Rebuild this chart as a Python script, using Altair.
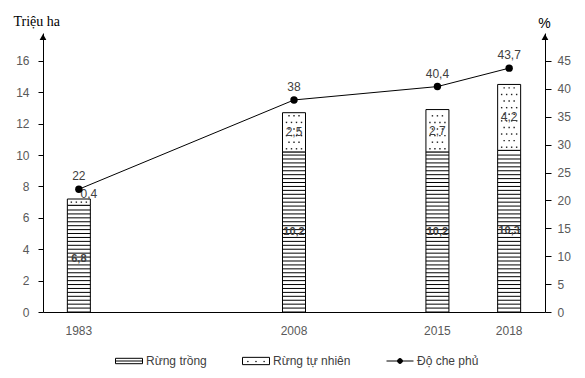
import altair as alt
import pandas as pd
import numpy as np

# ---- data ----
years = ["1983", "2008", "2015", "2018"]
planted = [6.8, 10.2, 10.2, 10.3]      # Rừng trồng (triệu ha)
natural = [0.4, 2.5, 2.7, 4.2]         # Rừng tự nhiên (triệu ha)
cover = [22, 38, 40.4, 43.7]           # Độ che phủ (%)
slots = ["1983", " ", "  ", "2008", "   ", "2015", "2018"]  # x slots (blank = gap)
left_ticks = list(range(0, 17, 2))
right_ticks = list(range(0, 50, 5))
series = ["Rừng trồng", "Rừng tự nhiên", "Độ che phủ"]

W, H = 502, 279
LMAX = 16 * 50 / 45
BAR = 23

def fmt(v):
    return f"{v:g}".replace(".", ",")

df = pd.DataFrame({"year": years, "planted": planted, "natural": natural, "cover": cover})
df["total"] = df["planted"] + df["natural"]
df["pl_mid"] = df["planted"] / 2
df["nat_mid"] = df["planted"] + df["natural"] / 2
df["pl_lab"] = [fmt(v) for v in planted]
df["nat_lab"] = [fmt(v) for v in natural]
df["cov_lab"] = [fmt(v) for v in cover]

# fill patterns derived from the bar values
stripe_rows = []
for yr, p in zip(years, planted):
    for yv in np.arange(0.25, p - 0.05, 0.25):
        stripe_rows.append({"year": yr, "y": float(yv)})
stripes = pd.DataFrame(stripe_rows)

dot_rows = []
for yr, p, n in zip(years, planted, natural):
    yv, i = p + 0.2, 0
    while yv < p + n - 0.08:
        offs = [-7.5, -2.5, 2.5, 7.5] if i % 2 == 0 else [-5, 0, 5]
        for o in offs:
            dot_rows.append({"year": yr, "y": yv, "xo": o})
        yv += 0.42
        i += 1
dots = pd.DataFrame(dot_rows)

FONT = "Liberation Sans"
SERIF = "Liberation Serif"


def X():
    return alt.X("year:N", scale=alt.Scale(type="band", domain=slots, paddingInner=0, paddingOuter=0),
                 axis=alt.Axis(title=None, ticks=False, labelAngle=0, labelPadding=13,
                               domainColor="black"))


lscale = alt.Scale(domain=[0, LMAX], nice=False, zero=True)
laxis = alt.Axis(values=left_ticks, title="Triệu ha", titleAngle=0, titleAlign="left",
                 titleX=-30, titleY=-8, titleBaseline="alphabetic", tickSize=5, labelPadding=9,
                 titleFont=SERIF, titleFontSize=14, titleFontWeight="normal", titleColor="black")


def LY(field):
    return alt.Y(field, scale=lscale, axis=laxis, title="Triệu ha")


base = alt.Chart(df)

bar_pl = base.mark_bar(size=BAR, fill="white", stroke="black", strokeWidth=1).encode(
    x=X(), y=LY("planted:Q"))
bar_nat = base.mark_bar(size=BAR, fill="white", stroke="black", strokeWidth=1).encode(
    x=X(), y=LY("planted:Q"), y2="total:Q")
stripe_layer = alt.Chart(stripes).mark_tick(orient="horizontal", size=BAR, thickness=1,
                                            color="black", opacity=1).encode(
    x=X(), y=LY("y:Q"))

dot_layers = []
for o in sorted(dots["xo"].unique()):
    dot_layers.append(
        alt.Chart(dots).transform_filter(alt.datum.xo == float(o)).mark_square(
            size=2, color="#222222", opacity=1, xOffset=float(o)).encode(x=X(), y=LY("y:Q"))
    )

lab_pl = base.mark_text(font=FONT, fontSize=11, fontWeight="bold", color="#404040").encode(
    x=X(), y=LY("pl_mid:Q"), text="pl_lab:N")
lab_nat = base.transform_filter(alt.datum.natural >= 1).mark_text(
    font=FONT, fontSize=12, color="#404040").encode(x=X(), y=LY("nat_mid:Q"), text="nat_lab:N")
lab_nat_small = base.transform_filter(alt.datum.natural < 1).mark_text(
    font=FONT, fontSize=12, color="#404040", dx=10, dy=-8).encode(
    x=X(), y=LY("nat_mid:Q"), text="nat_lab:N")

left_group = alt.layer(bar_pl, bar_nat, stripe_layer, *dot_layers, lab_pl, lab_nat, lab_nat_small)

rscale = alt.Scale(domain=[0, 50], nice=False, zero=True)
raxis = alt.Axis(values=right_ticks, orient="right", title="%", titleAngle=0, titleAlign="center",
                 titleX=-1, titleY=-6, titleBaseline="alphabetic", tickSize=6, labelPadding=6,
                 titleFont=FONT, titleFontSize=14, titleFontWeight="normal", titleColor="black")


def RY(field):
    return alt.Y(field, scale=rscale, axis=raxis, title="%")


line = base.mark_line(color="black", strokeWidth=1).encode(x=X(), y=RY("cover:Q"))
pts = base.mark_circle(size=55, color="black", opacity=1).encode(x=X(), y=RY("cover:Q"))
lab_cov = base.mark_text(font=FONT, fontSize=12, color="#404040", dy=-13).encode(
    x=X(), y=RY("cover:Q"), text="cov_lab:N")
right_group = alt.layer(line, pts, lab_cov)

# axis arrows
one = alt.Data(values=[{"a": 1}])
arrow_l = alt.Chart(one).mark_point(shape="triangle-up", filled=True, size=45, color="black",
                                    opacity=1, yOffset=4).encode(x=alt.value(0), y=alt.value(0))
arrow_r = alt.Chart(one).mark_point(shape="triangle-up", filled=True, size=45, color="black",
                                    opacity=1, yOffset=4).encode(x=alt.value(W), y=alt.value(0))

# legend (explicit domain, no marks drawn)
shapes = [
    "M-1,-0.2H1V0.2H-1Z M-1,0H1",
    "M-1,-0.27H1V0.27H-1Z M-0.62,0.02h0.04v0.04h-0.04Z M-0.02,0.02h0.04v0.04h-0.04Z M0.58,0.02h0.04v0.04h-0.04Z",
    "M-1,0H1 M-0.18,0A0.18,0.18 0 1,0 0.18,0A0.18,0.18 0 1,0 -0.18,0Z",
]
leg = alt.Legend(title=None, orient="none", legendX=72, legendY=314, direction="horizontal",
                 columns=3, columnPadding=33, symbolSize=729, symbolStrokeColor="black",
                 symbolStrokeWidth=1, labelFont=FONT, labelFontSize=12, labelColor="#404040",
                 labelOffset=3, symbolOpacity=1)
legend_df = pd.DataFrame({"s": series})
legend_layer = alt.Chart(legend_df).transform_filter("false").mark_point(
    strokeWidth=1, opacity=1).encode(
    shape=alt.Shape("s:N", scale=alt.Scale(domain=series, range=shapes), legend=leg),
    fill=alt.Fill("s:N", scale=alt.Scale(domain=series, range=["white", "white", "black"]), legend=leg),
    stroke=alt.Stroke("s:N", scale=alt.Scale(domain=series, range=["black", "black", "black"]), legend=leg),
)

chart = alt.layer(left_group, right_group, arrow_l, arrow_r, legend_layer).resolve_scale(
    y="independent", shape="shared", fill="shared", stroke="shared"
).properties(
    width=W, height=H,
    autosize=alt.AutoSizeParams(type="none"),
    padding={"left": 43, "top": 33, "right": 40, "bottom": 66},
    background="white",
).configure_view(stroke=None).configure_axis(
    labelFont=FONT, labelFontSize=12, labelColor="#595959", domainColor="black",
    tickColor="black", grid=False, domainWidth=1, tickWidth=1,
).configure_axisLeft(
    titleFont=SERIF, titleFontWeight="normal", titleFontSize=14, titleColor="black"
)

chart.save("out.html", embed_options={"renderer": "svg", "actions": False})
